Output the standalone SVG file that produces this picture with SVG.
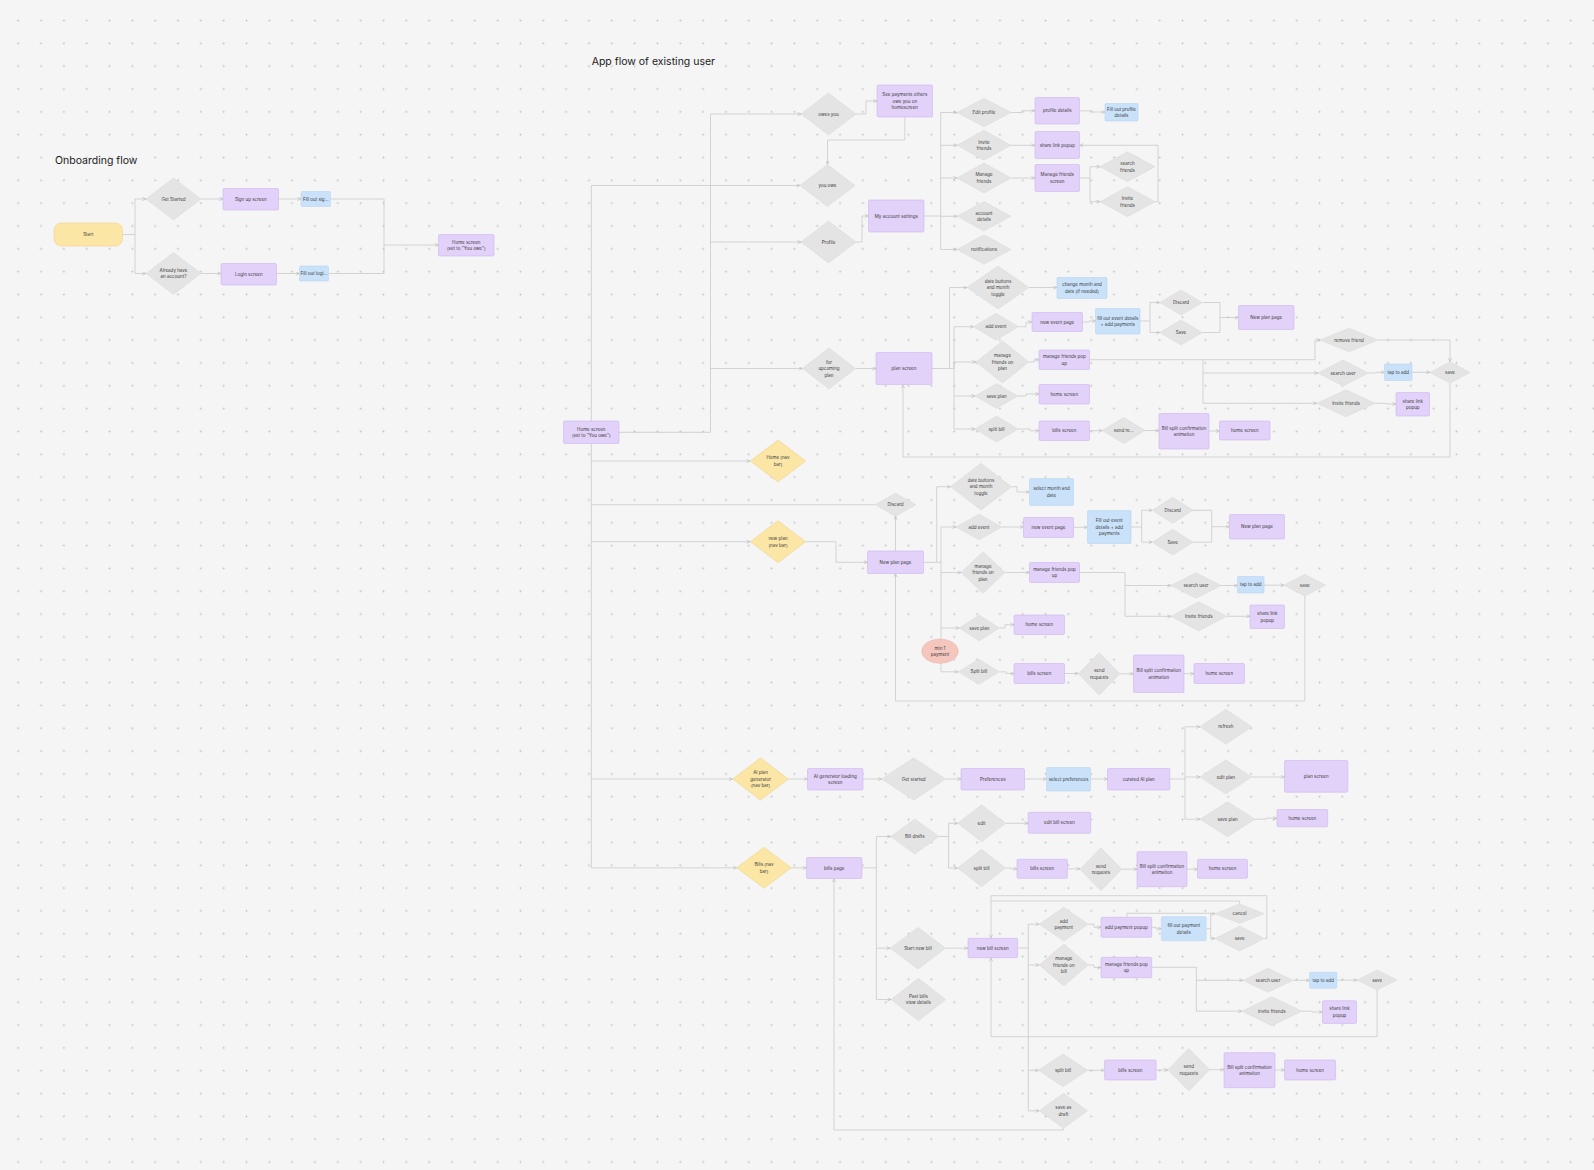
<svg xmlns="http://www.w3.org/2000/svg" width="1594" height="1170" viewBox="0 0 1594 1170">
<defs>
<pattern id="dots" width="22.83" height="22.83" patternUnits="userSpaceOnUse" x="6.8" y="9.1"><circle cx="11.415" cy="11.415" r="1" fill="#c4c4c4"/></pattern>
<marker id="a" viewBox="0 0 6 6" refX="6" refY="3" markerWidth="4" markerHeight="4" orient="auto" markerUnits="userSpaceOnUse"><path d="M0.5,0.6 L6,3 L0.5,5.4" fill="none" stroke="#b8b8b8" stroke-width="0.9"/></marker>
<style>
.p{fill:#e2d2f9;stroke:#cbb6ee;stroke-width:0.6}
.b{fill:#c9e2fa;stroke:#b7d5f1;stroke-width:0.6}
.d{fill:#e4e4e4;stroke:#d8d8d8;stroke-width:0.5}
.y{fill:#fbe6a6;stroke:#ecd591;stroke-width:0.6}
.k{fill:#f5c6be;stroke:#ebb3aa;stroke-width:0.5}
.t{font-family:Inter,"Noto Sans",sans-serif;font-size:4.5px;fill:#3a3a3a;text-anchor:middle}
.h{font-family:Inter,"Noto Sans",sans-serif;font-size:10.5px;fill:#1a1a1a}
#connectors path{fill:none;stroke:#cacaca;stroke-width:0.8;stroke-linejoin:round}
#connectors .m{marker-end:url(#a)}
</style>
</defs>
<rect width="1594" height="1170" fill="#f5f5f5"/>
<rect width="1594" height="1170" fill="url(#dots)"/>
<text class="h" x="55" y="164">Onboarding flow</text>
<text class="h" x="591.7" y="65">App flow of existing user</text>

<g id="connectors">
<!-- onboarding -->
<path class="m" d="M122.5,234.5 H135 V199 H146"/>
<path class="m" d="M135,234.5 V273.5 H146"/>
<path class="m" d="M201,199 H223"/>
<path class="m" d="M278.5,199 H301"/>
<path class="m" d="M330.5,199 H384 V245 H438.5"/>
<path class="m" d="M201,273.5 H221"/>
<path class="m" d="M276.5,273.5 H299.5"/>
<path d="M328.5,273.5 H384 V245"/>
<!-- top -->
<path class="m" d="M619,432.3 H710.5 V114 H801"/>
<path class="m" d="M710.5,242 H801"/>
<path class="m" d="M710.5,368.5 H802.5"/>
<path class="m" d="M856,114 H866 V101 H877"/>
<path class="m" d="M904.8,117 V140 H827.5 V164.5"/>
<path class="m" d="M591.3,421 V185.5 H800"/>
<path class="m" d="M856,242 H862 V216 H868.5"/>
<path d="M924,216 H940.7 M940.7,112.5 V249.5"/>
<path class="m" d="M940.7,112.5 H957"/>
<path class="m" d="M940.7,145.3 H957"/>
<path class="m" d="M940.7,178 H957"/>
<path class="m" d="M940.7,216.3 H957"/>
<path class="m" d="M940.7,249.5 H957"/>
<path class="m" d="M1011,112.5 H1022 V110.8 H1035"/>
<path class="m" d="M1079.5,110.8 H1092 V112 H1105"/>
<path class="m" d="M1011,145.3 H1035"/>
<path class="m" d="M1011,178 H1035"/>
<path class="m" d="M1079.5,178 H1090 V166.7 H1100"/>
<path class="m" d="M1090,178 V201.7 H1100"/>
<path class="m" d="M1155,201.7 H1158 V145.3 H1079.5"/>
<!-- plan screen -->
<path class="m" d="M855.5,368.5 H876"/>
<path class="m" d="M932,368.5 H949.5 V287.5 H967"/>
<path class="m" d="M949.5,368.5 H954 V326.7 H973.5"/>
<path class="m" d="M954,368.5 V362 H976"/>
<path class="m" d="M954,368.5 V396 H975"/>
<path class="m" d="M954,396 V429 H975"/>
<path class="m" d="M1029,287.5 H1057"/>
<path class="m" d="M1018.5,326.7 H1026 V322 H1032"/>
<path class="m" d="M1082.5,322 H1089 V321 H1095.5"/>
<path class="m" d="M1140,321 H1150 V302.5 H1159.8"/>
<path class="m" d="M1150,321 V332.5 H1159.8"/>
<path class="m" d="M1202.3,302.5 H1220 V317.5 H1238.5"/>
<path d="M1202.3,332.5 H1220 V317.5"/>
<path class="m" d="M1029,362 H1034 V359.7 H1039"/>
<path class="m" d="M1089.5,359.7 H1315 V340 H1320"/>
<path class="m" d="M1203,359.7 V373 H1317.7"/>
<path class="m" d="M1203,373 V403.3 H1316.7"/>
<path class="m" d="M1378,340 H1450 V361.7"/>
<path class="m" d="M1368.3,373 H1376 V372.3 H1384.5"/>
<path class="m" d="M1412,372.3 H1430"/>
<path class="m" d="M1375.3,403.3 H1386 V404 H1396"/>
<path class="m" d="M1450,383.3 V457 H903 V384.5"/>
<path class="m" d="M1018,396 H1026 V394 H1039"/>
<path class="m" d="M1018,429 H1030 V430.7 H1039"/>
<path class="m" d="M1089.5,430.7 H1102.2"/>
<path class="m" d="M1145.2,430.5 H1159"/>
<path class="m" d="M1209,431 H1219.5"/>
<!-- trunk -->
<path d="M591.3,443.5 V867.8"/>
<path class="m" d="M591.3,461 H750.2"/>
<path d="M875,504.7 H591.3"/>
<path class="m" d="M591.3,541.7 H750.2"/>
<!-- new plan -->
<path class="m" d="M805.8,541.7 H836 V562.3 H867.5"/>
<path class="m" d="M895.5,551 V516.2"/>
<path class="m" d="M923.5,562.3 H936.7 V486.7 H950.5"/>
<path class="m" d="M936.7,562.3 H941 V527 H956.2"/>
<path class="m" d="M941,562.3 V572.5 H961"/>
<path class="m" d="M941,572.5 V628 H959.3"/>
<path class="m" d="M941,628 V671.8 H958.3"/>
<path class="m" d="M1011.5,486.7 H1017 V492 H1029.5"/>
<path class="m" d="M1001.9,527 H1023.5"/>
<path class="m" d="M1073.5,527.3 H1087.5"/>
<path class="m" d="M1131,527 H1141.7 V510.3 H1152.3"/>
<path class="m" d="M1141.7,527 V542.2 H1152.3"/>
<path class="m" d="M1193,510.3 H1211.7 V526.7 H1229.5"/>
<path d="M1193,542.2 H1211.7 V526.7"/>
<path class="m" d="M1005,572.5 H1029.5"/>
<path class="m" d="M1079.5,572.5 H1125 V585.5 H1171"/>
<path class="m" d="M1125,585.5 V616.3 H1171"/>
<path class="m" d="M1221,585.5 H1237.5"/>
<path class="m" d="M1264,585.2 H1284"/>
<path class="m" d="M1226.7,616.3 H1250"/>
<path class="m" d="M1304.8,596 V701 H895.5 V573.5"/>
<path class="m" d="M999.3,628 H1005 V624.7 H1014"/>
<path class="m" d="M999.3,671.8 H1006 V673.5 H1014"/>
<path class="m" d="M1064.5,673.5 H1078.4"/>
<path class="m" d="M1120,673.8 H1133.5"/>
<path class="m" d="M1184,673.7 H1194"/>
<!-- AI -->
<path class="m" d="M591.3,779 H732.7"/>
<path class="m" d="M788.4,779 H807.5"/>
<path class="m" d="M863,779 H881.7"/>
<path class="m" d="M945.7,779 H961"/>
<path class="m" d="M1024.5,779 H1046.5"/>
<path class="m" d="M1090.5,779 H1107.5"/>
<path class="m" d="M1169.8,779 H1185 V726.8 H1200"/>
<path class="m" d="M1185,777 H1200"/>
<path class="m" d="M1185,779 V819.2 H1200"/>
<path class="m" d="M1251.7,777 H1284.5"/>
<path class="m" d="M1255,819.2 H1266 V818.2 H1277"/>
<!-- bills -->
<path class="m" d="M591.3,867.8 H736.7"/>
<path class="m" d="M791.3,867.8 H806.5"/>
<path d="M862,867.8 H876.4 M876.4,836.5 V999.5"/>
<path class="m" d="M876.4,836.5 H890.8"/>
<path class="m" d="M876.4,948.2 H890.3"/>
<path class="m" d="M876.4,999.5 H891.1"/>
<path d="M938.8,836.5 H948.6 M948.6,823.3 V868"/>
<path class="m" d="M948.6,823.3 H957.6"/>
<path class="m" d="M948.6,868 H957.6"/>
<path class="m" d="M1005.6,823.3 H1028.2"/>
<path class="m" d="M1005.6,868 H1011 V868.8 H1017"/>
<path class="m" d="M1067.4,868.8 H1080"/>
<path class="m" d="M1121.8,869.2 H1137"/>
<path class="m" d="M1187,869.2 H1197.5"/>
<path class="m" d="M1063.4,1128.3 V1130 H834 V878.5"/>
<path class="m" d="M945.7,948.2 H968"/>
<path d="M1017.6,948 H1028.3 M1028.3,924.2 V1110.8"/>
<path class="m" d="M1028.3,924.2 H1039.3"/>
<path class="m" d="M1028.3,965 H1039.3"/>
<path class="m" d="M1028.3,1070.3 H1038.5"/>
<path class="m" d="M1028.3,1110.8 H1039.3"/>
<path class="m" d="M1088.3,924.2 H1094 V927.3 H1101"/>
<path class="m" d="M1151.7,927.3 H1156 V928.7 H1161.4"/>
<path class="m" d="M1206.1,928.7 H1210.7 V913.7 H1215"/>
<path class="m" d="M1210.7,928.7 V938.5 H1215"/>
<path d="M1126.8,917.3 V913.3 H1210.7"/>
<path class="m" d="M1239.6,904 V901 H991 V938.3"/>
<path d="M1264.2,938.5 H1266.8 V895.7 H991 V901"/>
<path class="m" d="M1088.3,965 H1094 V967.5 H1101"/>
<path class="m" d="M1151.7,967.3 H1196.4 V980.3 H1242.9"/>
<path class="m" d="M1196.4,980.3 V1011.2 H1241.8"/>
<path class="m" d="M1292.9,980.3 H1309.6"/>
<path class="m" d="M1336.8,980.2 H1357.1"/>
<path class="m" d="M1301.8,1011.2 H1312 V1012 H1322.5"/>
<path class="m" d="M1377.1,990 V1036.7 H991 V957.7"/>
<path class="m" d="M1087.5,1070.3 H1104.6"/>
<path class="m" d="M1156.1,1070 H1167.9"/>
<path class="m" d="M1209.6,1069.7 H1224"/>
<path class="m" d="M1275,1070 H1284.6"/>
</g>

<!-- onboarding nodes -->
<g id="start"><rect class="y" x="54" y="223" width="68.5" height="23" rx="7"/><text class="t" x="88.3" y="236.1">Start</text></g>
<g id="getStarted"><polygon class="d" points="146,199 173.5,178 201,199 173.5,220"/><text class="t" x="173.5" y="200.6">Get Started</text></g>
<g id="alreadyAccount"><polygon class="d" points="146,273.5 173.5,252.5 201,273.5 173.5,294.5"/><text class="t" x="173.5" y="271.8">Already have</text><text class="t" x="173.5" y="278.4">an account?</text></g>
<g id="signUp"><rect class="p" x="223" y="188.5" width="55.5" height="21.5" rx="1.2"/><text class="t" x="250.8" y="200.9">Sign up screen</text></g>
<g id="fillSign"><rect class="b" x="301" y="191.5" width="29.5" height="15" rx="1"/><text class="t" x="315.8" y="200.6">Fill out sig...</text></g>
<g id="login"><rect class="p" x="221" y="263.5" width="55.5" height="21.5" rx="1.2"/><text class="t" x="248.8" y="275.9">Login screen</text></g>
<g id="fillLogin"><rect class="b" x="299.5" y="266" width="29" height="15" rx="1"/><text class="t" x="314" y="275.1">Fill out logi...</text></g>
<g id="homeOnboard"><rect class="p" x="438.5" y="234.5" width="55.5" height="21.5" rx="1.2"/><text class="t" x="466.3" y="243.6">Home screen</text><text class="t" x="466.3" y="250.2">(set to "You owe")</text></g>

<!-- top -->
<g id="home"><rect class="p" x="563.5" y="421" width="55.5" height="22.5" rx="1.2"/><text class="t" x="591.3" y="430.6">Home screen</text><text class="t" x="591.3" y="437.2">(set to "You owe")</text></g>
<g id="owesYou"><polygon class="d" points="801,114 828.5,93 856,114 828.5,135"/><text class="t" x="828.5" y="115.6">owes you</text></g>
<g id="seePayments"><rect class="p" x="877" y="85" width="55.5" height="32" rx="1.2"/><text class="t" x="904.8" y="96">See payments others</text><text class="t" x="904.8" y="102.6">owe you on</text><text class="t" x="904.8" y="109.2">homescreen</text></g>
<g id="youOwe"><polygon class="d" points="800,185.5 827.5,164.5 855,185.5 827.5,206.5"/><text class="t" x="827.5" y="187.1">you owe</text></g>
<g id="profile"><polygon class="d" points="801,242 828.5,221 856,242 828.5,263"/><text class="t" x="828.5" y="243.6">Profile</text></g>
<g id="accountSettings"><rect class="p" x="868.5" y="200" width="55.5" height="32" rx="1.2"/><text class="t" x="896.3" y="217.6">My account settings</text></g>
<g id="editProfile"><polygon class="d" points="957,112.5 984,98.25 1011,112.5 984,126.75"/><text class="t" x="984" y="114.1">Edit profile</text></g>
<g id="inviteFriends1"><polygon class="d" points="957,145.3 984,130.3 1011,145.3 984,160.3"/><text class="t" x="984" y="143.6">Invite</text><text class="t" x="984" y="150.2">friends</text></g>
<g id="manageFriends1"><polygon class="d" points="957,178 984,163 1011,178 984,193"/><text class="t" x="984" y="176.3">Manage</text><text class="t" x="984" y="182.9">friends</text></g>
<g id="accountDetails"><polygon class="d" points="957,216.3 984,201.55 1011,216.3 984,231.05"/><text class="t" x="984" y="214.6">account</text><text class="t" x="984" y="221.2">details</text></g>
<g id="notifications"><polygon class="d" points="957,249.5 984,234.75 1011,249.5 984,264.25"/><text class="t" x="984" y="251.1">notifications</text></g>
<g id="profileDetails"><rect class="p" x="1035" y="97.5" width="44.5" height="26.5" rx="1.2"/><text class="t" x="1057.3" y="112.4">profile details</text></g>
<g id="fillProfile"><rect class="b" x="1105" y="103.5" width="33" height="17.5" rx="1"/><text class="t" x="1121.5" y="110.6">Fill out profile</text><text class="t" x="1121.5" y="117.2">details</text></g>
<g id="shareLink1"><rect class="p" x="1035" y="131.5" width="44.5" height="27" rx="1.2"/><text class="t" x="1057.3" y="146.6">share link popup</text></g>
<g id="manageFriendsScreen"><rect class="p" x="1035" y="164.5" width="44.5" height="27" rx="1.2"/><text class="t" x="1057.3" y="176.3">Manage friends</text><text class="t" x="1057.3" y="182.9">screen</text></g>
<g id="searchFriends"><polygon class="d" points="1100,166.7 1127.5,151.7 1155,166.7 1127.5,181.7"/><text class="t" x="1127.5" y="165">search</text><text class="t" x="1127.5" y="171.6">friends</text></g>
<g id="inviteFriends2"><polygon class="d" points="1100,201.7 1127.5,186.7 1155,201.7 1127.5,216.7"/><text class="t" x="1127.5" y="200">Invite</text><text class="t" x="1127.5" y="206.6">friends</text></g>

<!-- plan screen -->
<g id="forUpcoming"><polygon class="d" points="802.5,368.5 829,348 855.5,368.5 829,389"/><text class="t" x="829" y="363.5">for</text><text class="t" x="829" y="370.1">upcoming</text><text class="t" x="829" y="376.7">plan</text></g>
<g id="planScreen"><rect class="p" x="876" y="352.5" width="56" height="32" rx="1.2"/><text class="t" x="904" y="370.1">plan screen</text></g>
<g id="dateButtons1"><polygon class="d" points="967,287.5 998,266 1029,287.5 998,309"/><text class="t" x="998" y="282.5">date buttons</text><text class="t" x="998" y="289.1">and month</text><text class="t" x="998" y="295.7">toggle</text></g>
<g id="addEvent1"><polygon class="d" points="973.5,326.7 996,313.2 1018.5,326.7 996,340.2"/><text class="t" x="996" y="328.3">add event</text></g>
<g id="manageFriendsPlan1"><polygon class="d" points="976,362 1002.5,341 1029,362 1002.5,383"/><text class="t" x="1002.5" y="357">manage</text><text class="t" x="1002.5" y="363.6">friends on</text><text class="t" x="1002.5" y="370.2">plan</text></g>
<g id="savePlan1"><polygon class="d" points="975,396 996.5,383.75 1018,396 996.5,408.25"/><text class="t" x="996.5" y="397.6">save plan</text></g>
<g id="splitBill1"><polygon class="d" points="975,429 996.5,416 1018,429 996.5,442"/><text class="t" x="996.5" y="430.6">split bill</text></g>
<g id="changeMonth"><rect class="b" x="1057" y="277.5" width="50" height="21" rx="1"/><text class="t" x="1082" y="286.3">change month and</text><text class="t" x="1082" y="292.9">date (if needed)</text></g>
<g id="newEventPage1"><rect class="p" x="1032" y="312.5" width="50.5" height="19" rx="1.2"/><text class="t" x="1057.3" y="323.6">new event page</text></g>
<g id="fillEvent1"><rect class="b" x="1095.5" y="308.5" width="44.5" height="25.5" rx="1"/><text class="t" x="1117.8" y="319.6">fill out event details</text><text class="t" x="1117.8" y="326.2">+ add payments</text></g>
<g id="discard1"><polygon class="d" points="1159.75,302.5 1181,290 1202.25,302.5 1181,315"/><text class="t" x="1181" y="304.1">Discard</text></g>
<g id="save1"><polygon class="d" points="1159.75,332.5 1181,320 1202.25,332.5 1181,345"/><text class="t" x="1181" y="334.1">Save</text></g>
<g id="newPlanPage1"><rect class="p" x="1238.5" y="305.5" width="55.5" height="24" rx="1.2"/><text class="t" x="1266.3" y="319.1">New plan page</text></g>
<g id="managePopup1"><rect class="p" x="1039" y="350" width="50.5" height="19.5" rx="1.2"/><text class="t" x="1064.3" y="358.1">manage friends pop</text><text class="t" x="1064.3" y="364.7">up</text></g>
<g id="homeScreen2"><rect class="p" x="1039" y="384.5" width="50.5" height="19.5" rx="1.2"/><text class="t" x="1064.3" y="395.9">home screen</text></g>
<g id="billsScreen1"><rect class="p" x="1039" y="421" width="50.5" height="19.5" rx="1.2"/><text class="t" x="1064.3" y="432.4">bills screen</text></g>
<g id="sendRe"><polygon class="d" points="1102.2,430.5 1123.7,417.5 1145.2,430.5 1123.7,443.5"/><text class="t" x="1123.7" y="432.1">send re...</text></g>
<g id="billSplit1"><rect class="p" x="1159" y="413.5" width="50" height="35.5" rx="1.2"/><text class="t" x="1184" y="429.6">Bill split confirmation</text><text class="t" x="1184" y="436.2">animation</text></g>
<g id="homeScreen3"><rect class="p" x="1219.5" y="421" width="50.5" height="19" rx="1.2"/><text class="t" x="1244.8" y="432.1">home screen</text></g>
<g id="removeFriend"><polygon class="d" points="1320,340 1349,328.25 1378,340 1349,351.75"/><text class="t" x="1349" y="341.6">remove friend</text></g>
<g id="searchUser1"><polygon class="d" points="1317.75,373 1343,360 1368.25,373 1343,386"/><text class="t" x="1343" y="374.6">search user</text></g>
<g id="tapToAdd1"><rect class="b" x="1384.5" y="364" width="27.5" height="16.5" rx="1"/><text class="t" x="1398.3" y="373.9">tap to add</text></g>
<g id="saveFriends1"><polygon class="d" points="1430,372.5 1450,361.75 1470,372.5 1450,383.25"/><text class="t" x="1450" y="374.1">save</text></g>
<g id="inviteFriends3"><polygon class="d" points="1316.75,403.3 1346,389.8 1375.25,403.3 1346,416.8"/><text class="t" x="1346" y="404.9">Invite friends</text></g>
<g id="shareLink2"><rect class="p" x="1396" y="392.5" width="33.5" height="23.5" rx="1.2"/><text class="t" x="1412.8" y="402.6">share link</text><text class="t" x="1412.8" y="409.2">popup</text></g>

<!-- new plan -->
<g id="homeNav"><polygon class="y" points="750.25,461 778,440 805.75,461 778,482"/><text class="t" x="778" y="459.3">Home (nav</text><text class="t" x="778" y="465.9">bar)</text></g>
<g id="discardNP"><polygon class="d" points="875,504.7 895.5,493.2 916,504.7 895.5,516.2"/><text class="t" x="895.5" y="506.3">Discard</text></g>
<g id="newPlanNav"><polygon class="y" points="750.25,541.7 778,520.7 805.75,541.7 778,562.7"/><text class="t" x="778" y="540">new plan</text><text class="t" x="778" y="546.6">(nav bar)</text></g>
<g id="newPlanPage2"><rect class="p" x="867.5" y="551" width="56" height="22.5" rx="1.2"/><text class="t" x="895.5" y="563.9">New plan page</text></g>
<g id="dateButtons2"><polygon class="d" points="950.5,486.7 981,463.35 1011.5,486.7 981,510.05"/><text class="t" x="981" y="481.7">date buttons</text><text class="t" x="981" y="488.3">and month</text><text class="t" x="981" y="494.9">toggle</text></g>
<g id="addEvent2"><polygon class="d" points="956.15,527 979,514.15 1001.85,527 979,539.85"/><text class="t" x="979" y="528.6">add event</text></g>
<g id="manageFriendsPlan2"><polygon class="d" points="961,572.5 983,551.65 1005,572.5 983,593.35"/><text class="t" x="983" y="567.5">manage</text><text class="t" x="983" y="574.1">friends on</text><text class="t" x="983" y="580.7">plan</text></g>
<g id="savePlan2"><polygon class="d" points="959.3,628 979.3,615 999.3,628 979.3,641"/><text class="t" x="979.3" y="629.6">save plan</text></g>
<g id="splitBill2"><polygon class="d" points="958.3,671.8 978.8,659.3 999.3,671.8 978.8,684.3"/><text class="t" x="978.8" y="673.4">Split bill</text></g>
<g id="selectMonth"><rect class="b" x="1029.5" y="478.5" width="44" height="27" rx="1"/><text class="t" x="1051.5" y="490.3">select month and</text><text class="t" x="1051.5" y="496.9">date</text></g>
<g id="newEventPage2"><rect class="p" x="1023.5" y="517.5" width="50" height="20" rx="1.2"/><text class="t" x="1048.5" y="529.1">new event page</text></g>
<g id="fillEvent2"><rect class="b" x="1087.5" y="510.5" width="43.5" height="33" rx="1"/><text class="t" x="1109.3" y="522">Fill out event</text><text class="t" x="1109.3" y="528.6">details + add</text><text class="t" x="1109.3" y="535.2">payments</text></g>
<g id="discard2"><polygon class="d" points="1152.35,510.3 1172.7,497.3 1193.05,510.3 1172.7,523.3"/><text class="t" x="1172.7" y="511.9">Discard</text></g>
<g id="save2"><polygon class="d" points="1152.35,542.2 1172.7,529.35 1193.05,542.2 1172.7,555.05"/><text class="t" x="1172.7" y="543.8">Save</text></g>
<g id="newPlanPage3"><rect class="p" x="1229.5" y="514.5" width="55" height="24.5" rx="1.2"/><text class="t" x="1257" y="528.4">New plan page</text></g>
<g id="managePopup2"><rect class="p" x="1029.5" y="562.5" width="50" height="20" rx="1.2"/><text class="t" x="1054.5" y="570.8">manage friends pop</text><text class="t" x="1054.5" y="577.4">up</text></g>
<g id="searchUser2"><polygon class="d" points="1171,585.5 1196,572.65 1221,585.5 1196,598.35"/><text class="t" x="1196" y="587.1">search user</text></g>
<g id="tapToAdd2"><rect class="b" x="1237.5" y="576.5" width="26.5" height="16.5" rx="1"/><text class="t" x="1250.8" y="586.4">tap to add</text></g>
<g id="saveFriends2"><polygon class="d" points="1283.95,585.2 1304.8,574.35 1325.65,585.2 1304.8,596.05"/><text class="t" x="1304.8" y="586.8">save</text></g>
<g id="inviteFriends4"><polygon class="d" points="1170.95,616.3 1198.8,601.65 1226.65,616.3 1198.8,630.95"/><text class="t" x="1198.8" y="617.9">Invite friends</text></g>
<g id="shareLink3"><rect class="p" x="1250" y="605" width="34.5" height="23.5" rx="1.2"/><text class="t" x="1267.3" y="615.1">share link</text><text class="t" x="1267.3" y="621.7">popup</text></g>
<g id="homeScreen4"><rect class="p" x="1014" y="615" width="50.5" height="19.5" rx="1.2"/><text class="t" x="1039.3" y="626.4">home screen</text></g>
<g id="billsScreen2"><rect class="p" x="1014" y="663.5" width="50.5" height="20" rx="1.2"/><text class="t" x="1039.3" y="675.1">bills screen</text></g>
<g id="sendReq2"><polygon class="d" points="1078.35,673.8 1099.2,652.65 1120.05,673.8 1099.2,694.95"/><text class="t" x="1099.2" y="672.1">send</text><text class="t" x="1099.2" y="678.7">requests</text></g>
<g id="billSplit2"><rect class="p" x="1133.5" y="655" width="50.5" height="37.5" rx="1.2"/><text class="t" x="1158.8" y="672.1">Bill split confirmation</text><text class="t" x="1158.8" y="678.7">animation</text></g>
<g id="homeScreen5"><rect class="p" x="1194" y="663.5" width="50.5" height="20" rx="1.2"/><text class="t" x="1219.3" y="675.1">home screen</text></g>
<g id="min1"><ellipse class="k" cx="940" cy="651.2" rx="18.3" ry="12.2"/><text class="t" x="940" y="649.5">min 1</text><text class="t" x="940" y="656.1">payment</text></g>

<!-- AI -->
<g id="aiNav"><polygon class="y" points="732.65,779 760.5,757.85 788.35,779 760.5,800.15"/><text class="t" x="760.5" y="774">AI plan</text><text class="t" x="760.5" y="780.6">generator</text><text class="t" x="760.5" y="787.2">(nav bar)</text></g>
<g id="aiLoading"><rect class="p" x="807.5" y="768.5" width="55.5" height="21.5" rx="1.2"/><text class="t" x="835.3" y="777.6">AI generator loading</text><text class="t" x="835.3" y="784.2">screen</text></g>
<g id="getStarted2"><polygon class="d" points="881.7,779 913.7,757.85 945.7,779 913.7,800.15"/><text class="t" x="913.7" y="780.6">Get started</text></g>
<g id="preferences"><rect class="p" x="961" y="768.5" width="63.5" height="21.5" rx="1.2"/><text class="t" x="992.8" y="780.9">Preferences</text></g>
<g id="selectPrefs"><rect class="b" x="1046.5" y="767.5" width="44" height="23.5" rx="1"/><text class="t" x="1068.5" y="780.9">select preferences</text></g>
<g id="curated"><rect class="p" x="1107.5" y="768.5" width="62.3" height="21.5" rx="1.2"/><text class="t" x="1138.7" y="780.9">curated AI plan</text></g>
<g id="refresh"><polygon class="d" points="1199.95,726.8 1225.8,709.3 1251.65,726.8 1225.8,744.3"/><text class="t" x="1225.8" y="728.4">refresh</text></g>
<g id="editPlan"><polygon class="d" points="1199.95,777 1225.8,760 1251.65,777 1225.8,794"/><text class="t" x="1225.8" y="778.6">edit plan</text></g>
<g id="savePlan3"><polygon class="d" points="1200,819.2 1227.5,801.7 1255,819.2 1227.5,836.7"/><text class="t" x="1227.5" y="820.8">save plan</text></g>
<g id="planScreen2"><rect class="p" x="1284.5" y="760.5" width="63.3" height="31.7" rx="1.2"/><text class="t" x="1316.2" y="778">plan screen</text></g>
<g id="homeScreen6"><rect class="p" x="1277" y="809.5" width="50.7" height="17.3" rx="1.2"/><text class="t" x="1302.4" y="819.8">home screen</text></g>

<!-- bills -->
<g id="billsNav"><polygon class="y" points="736.7,867.8 764,847.3 791.3,867.8 764,888.3"/><text class="t" x="764" y="866.1">Bills (nav</text><text class="t" x="764" y="872.7">bar)</text></g>
<g id="billsPage"><rect class="p" x="806.5" y="857.5" width="55.4" height="21" rx="1.2"/><text class="t" x="834.2" y="869.6">bills page</text></g>
<g id="billDrafts"><polygon class="d" points="890.8,836.5 914.8,819 938.8,836.5 914.8,854"/><text class="t" x="914.8" y="838.1">Bill drafts</text></g>
<g id="edit"><polygon class="d" points="957.6,823.3 981.6,804.8 1005.6,823.3 981.6,841.8"/><text class="t" x="981.6" y="824.9">edit</text></g>
<g id="editBillScreen"><rect class="p" x="1028.2" y="812.3" width="62.5" height="21" rx="1.2"/><text class="t" x="1059.5" y="824.4">edit bill screen</text></g>
<g id="splitBill3"><polygon class="d" points="957.6,868 981.6,849.3 1005.6,868 981.6,886.7"/><text class="t" x="981.6" y="869.6">split bill</text></g>
<g id="billsScreen3"><rect class="p" x="1017" y="859.3" width="50.4" height="19" rx="1.2"/><text class="t" x="1042.2" y="870.4">bills screen</text></g>
<g id="sendReq3"><polygon class="d" points="1080,869.2 1100.9,847.7 1121.8,869.2 1100.9,890.7"/><text class="t" x="1100.9" y="867.5">send</text><text class="t" x="1100.9" y="874.1">requests</text></g>
<g id="billSplit3"><rect class="p" x="1137" y="851.7" width="50" height="35" rx="1.2"/><text class="t" x="1162" y="867.5">Bill split confirmation</text><text class="t" x="1162" y="874.1">animation</text></g>
<g id="homeScreen7"><rect class="p" x="1197.5" y="859.3" width="50" height="19" rx="1.2"/><text class="t" x="1222.5" y="870.4">home screen</text></g>
<g id="startNewBill"><polygon class="d" points="890.3,948.2 918,927.35 945.7,948.2 918,969.05"/><text class="t" x="918" y="949.8">Start new bill</text></g>
<g id="pastBills"><polygon class="d" points="891.1,999.5 918.4,978.35 945.7,999.5 918.4,1020.65"/><text class="t" x="918.4" y="997.8">Past bills</text><text class="t" x="918.4" y="1004.4">view details</text></g>
<g id="newBillScreen"><rect class="p" x="968" y="938.3" width="49.6" height="19.4" rx="1.2"/><text class="t" x="992.8" y="949.6">new bill screen</text></g>
<g id="addPayment"><polygon class="d" points="1039.3,924.2 1063.8,907.35 1088.3,924.2 1063.8,941.05"/><text class="t" x="1063.8" y="922.5">add</text><text class="t" x="1063.8" y="929.1">payment</text></g>
<g id="addPaymentPopup"><rect class="p" x="1101" y="917.3" width="50.7" height="20" rx="1.2"/><text class="t" x="1126.4" y="928.9">add payment popup</text></g>
<g id="fillPayment"><rect class="b" x="1161.4" y="916.7" width="44.7" height="24" rx="1"/><text class="t" x="1183.8" y="927">fill out payment</text><text class="t" x="1183.8" y="933.6">details</text></g>
<g id="cancel"><polygon class="d" points="1214.95,913.7 1239.6,903.95 1264.25,913.7 1239.6,923.45"/><text class="t" x="1239.6" y="915.3">cancel</text></g>
<g id="savePay"><polygon class="d" points="1214.95,938.5 1239.6,926 1264.25,938.5 1239.6,951"/><text class="t" x="1239.6" y="940.1">save</text></g>
<g id="manageFriendsBill"><polygon class="d" points="1039.3,965 1063.8,944 1088.3,965 1063.8,986"/><text class="t" x="1063.8" y="960">manage</text><text class="t" x="1063.8" y="966.6">friends on</text><text class="t" x="1063.8" y="973.2">bill</text></g>
<g id="managePopup3"><rect class="p" x="1101" y="957.3" width="50.7" height="20.4" rx="1.2"/><text class="t" x="1126.4" y="965.8">manage friends pop</text><text class="t" x="1126.4" y="972.4">up</text></g>
<g id="searchUser3"><polygon class="d" points="1242.9,980.3 1267.9,968.3 1292.9,980.3 1267.9,992.3"/><text class="t" x="1267.9" y="981.9">search user</text></g>
<g id="tapToAdd3"><rect class="b" x="1309.6" y="972.3" width="27.2" height="16" rx="1"/><text class="t" x="1323.2" y="981.9">tap to add</text></g>
<g id="saveFriends3"><polygon class="d" points="1357.1,980 1377.1,970 1397.1,980 1377.1,990"/><text class="t" x="1377.1" y="981.6">save</text></g>
<g id="inviteFriends5"><polygon class="d" points="1241.8,1011.2 1271.8,996.7 1301.8,1011.2 1271.8,1025.7"/><text class="t" x="1271.8" y="1012.8">invite friends</text></g>
<g id="shareLink4"><rect class="p" x="1322.5" y="1000.7" width="34" height="22.7" rx="1.2"/><text class="t" x="1339.5" y="1010.4">share link</text><text class="t" x="1339.5" y="1017">popup</text></g>
<g id="splitBill4"><polygon class="d" points="1038.5,1070.3 1063,1053.95 1087.5,1070.3 1063,1086.65"/><text class="t" x="1063" y="1071.9">split bill</text></g>
<g id="billsScreen4"><rect class="p" x="1104.6" y="1060" width="51.5" height="20" rx="1.2"/><text class="t" x="1130.4" y="1071.6">bills screen</text></g>
<g id="sendReq4"><polygon class="d" points="1167.95,1069.7 1188.8,1048.35 1209.65,1069.7 1188.8,1091.05"/><text class="t" x="1188.8" y="1068">send</text><text class="t" x="1188.8" y="1074.6">requests</text></g>
<g id="billSplit4"><rect class="p" x="1224" y="1052.7" width="51" height="35" rx="1.2"/><text class="t" x="1249.5" y="1068.5">Bill split confirmation</text><text class="t" x="1249.5" y="1075.1">animation</text></g>
<g id="homeScreen8"><rect class="p" x="1284.6" y="1060" width="51" height="20" rx="1.2"/><text class="t" x="1310.1" y="1071.6">home screen</text></g>
<g id="saveDraft"><polygon class="d" points="1039.3,1110.8 1063.4,1093.3 1087.5,1110.8 1063.4,1128.3"/><text class="t" x="1063.4" y="1109.1">save as</text><text class="t" x="1063.4" y="1115.7">draft</text></g>
</svg>
